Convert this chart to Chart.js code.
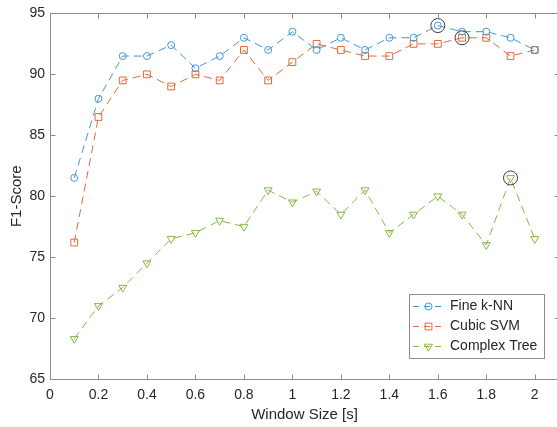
<!DOCTYPE html>
<html>
<head>
<meta charset="utf-8">
<script src="https://cdn.jsdelivr.net/npm/chart.js@4/dist/chart.umd.min.js"></script>
<style>
  html, body { margin: 0; padding: 0; background: #fff; overflow: hidden; }
  /* canvas a bit wider than the window: the right axis edge falls off the picture like in the original */
  #wrap { width: 567px; height: 427px; }
</style>
</head>
<body>
<div id="wrap"><canvas id="grafica" width="567" height="427"></canvas></div>
<script>
// data
const windowSizes = [0.1, 0.2, 0.3, 0.4, 0.5, 0.6, 0.7, 0.8, 0.9, 1.0,
                     1.1, 1.2, 1.3, 1.4, 1.5, 1.6, 1.7, 1.8, 1.9, 2.0];
const knnF1  = [81.5, 88, 91.5, 91.5, 92.4, 90.5, 91.5, 93, 92, 93.5,
                92, 93, 92, 93, 93, 94, 93.5, 93.5, 93, 92];
const svmF1  = [76.2, 86.5, 89.5, 90, 89, 90, 89.5, 92, 89.5, 91,
                92.5, 92, 91.5, 91.5, 92.5, 92.5, 93, 93, 91.5, 92];
const treeF1 = [68.3, 71, 72.5, 74.5, 76.5, 77, 78, 77.5, 80.5, 79.5,
                80.4, 78.5, 80.5, 77, 78.5, 80, 78.5, 76, 81.5, 76.5];
// best window size per classifier (circled)
const bestX = [1.6, 1.7, 1.9];
const xTicks = [0, 0.2, 0.4, 0.6, 0.8, 1, 1.2, 1.4, 1.6, 1.8, 2];
const yTicks = [65, 70, 75, 80, 85, 90, 95];

const names = ["Fine k-NN", "Cubic SVM", "Complex Tree"];
const colors = ["#3f97d4", "#e26a3a", "#86b846"];
const estilos = [
  { pointStyle: "circle", radius: 3.5, rotation: 0 },
  { pointStyle: "rect", radius: 4.8, rotation: 0 },
  { pointStyle: "triangle", radius: 4.6, rotation: 180 }
];
const series = [knnF1, svmF1, treeF1];

const datasets = series.map(function (vals, i) {
  return {
    label: names[i],
    data: windowSizes.map((x, k) => ({ x: x, y: vals[k] })),
    borderColor: colors[i],
    backgroundColor: "rgba(0,0,0,0)",
    borderWidth: 1,
    borderDash: [8, 5],
    pointStyle: estilos[i].pointStyle,
    pointRadius: estilos[i].radius,
    pointRotation: estilos[i].rotation,
    pointBorderWidth: 1,
    pointBorderColor: colors[i],
    pointBackgroundColor: "rgba(0,0,0,0)",
    tension: 0,
    order: 2
  };
});

// black circles round the best points
bestX.forEach(function (bx, i) {
  const k = windowSizes.findIndex(x => Math.abs(x - bx) < 1e-9);
  datasets.push({
    label: "best" + i,
    data: [{ x: bx, y: series[i][k] }],
    showLine: false,
    pointStyle: "circle",
    pointRadius: 7,
    pointBorderWidth: 1,
    pointBorderColor: "#3a3a3a",
    pointBackgroundColor: "rgba(0,0,0,0)",
    order: 1
  });
});

const axisColor = "#8c8c8c";

// box + inward ticks like matlab
const cajaEjes = {
  id: "cajaEjes",
  afterDraw(chart) {
    const ctx = chart.ctx;
    const a = chart.chartArea;
    const xs = chart.scales.x, ys = chart.scales.y;
    ctx.save();
    ctx.strokeStyle = axisColor;
    ctx.lineWidth = 1;
    ctx.setLineDash([]);
    ctx.beginPath();
    const L = Math.round(a.left) + 0.5, R = Math.round(a.right) + 0.5;
    const T = Math.round(a.top) + 0.5, B = Math.round(a.bottom) + 0.5;
    ctx.rect(L, T, R - L, B - T);
    xTicks.forEach(function (v) {
      const p = Math.round(xs.getPixelForValue(v)) + 0.5;
      ctx.moveTo(p, B); ctx.lineTo(p, B - 5);
      ctx.moveTo(p, T); ctx.lineTo(p, T + 5);
    });
    yTicks.forEach(function (v) {
      const p = Math.round(ys.getPixelForValue(v)) + 0.5;
      ctx.moveTo(L, p); ctx.lineTo(L + 5, p);
      ctx.moveTo(R, p); ctx.lineTo(R - 5, p);
    });
    ctx.stroke();
    ctx.restore();
  }
};

// legend box inside the axes, bottom right
const leyenda = {
  id: "leyenda",
  afterDraw(chart) {
    const ctx = chart.ctx;
    const x0 = 409.5, y0 = 294.5, w = 135, h = 64;
    ctx.save();
    ctx.fillStyle = "#fff";
    ctx.fillRect(x0, y0, w, h);
    ctx.strokeStyle = "#8c8c8c";
    ctx.lineWidth = 1;
    ctx.strokeRect(x0, y0, w, h);
    names.forEach(function (n, i) {
      const y = 306.5 + i * 20;
      ctx.strokeStyle = colors[i];
      ctx.setLineDash([6, 5]);
      ctx.beginPath();
      ctx.moveTo(413, y); ctx.lineTo(444, y);
      ctx.stroke();
      ctx.setLineDash([]);
      ctx.fillStyle = "rgba(0,0,0,0)";
      ctx.lineWidth = 1;
      Chart.helpers.drawPoint(ctx, {
        pointStyle: estilos[i].pointStyle,
        radius: estilos[i].radius,
        rotation: estilos[i].rotation,
        borderWidth: 1
      }, 428.5, y);
      ctx.fillStyle = "#262626";
      ctx.font = "14px 'Liberation Sans', Arial, sans-serif";
      ctx.textBaseline = "middle";
      ctx.fillText(n, 450, y);
    });
    ctx.restore();
  }
};

const fuente = { family: "'Liberation Sans', Arial, sans-serif", size: 14 };

const config = {
  type: "line",
  data: { datasets: datasets },
  options: {
    responsive: false,
    animation: false,
    layout: { padding: { top: 11.6, right: 2, bottom: 0, left: 0 } },
    plugins: {
      legend: { display: false },
      tooltip: { enabled: false },
      title: { display: false }
    },
    scales: {
      x: {
        type: "linear",
        min: 0,
        max: 2.1,
        afterBuildTicks: function (scale) {
          scale.ticks = xTicks.map(v => ({ value: v }));
        },
        afterFit: function (scale) { scale.height = 48; },
        grid: { display: false, drawTicks: false },
        border: { display: false },
        ticks: {
          padding: 8,
          color: "#262626",
          font: fuente,
          maxRotation: 0,
          autoSkip: false,
          callback: v => String(Math.round(v * 10) / 10)
        },
        title: {
          display: true,
          text: "Window Size [s]",
          color: "#262626",
          font: { family: fuente.family, size: 15 },
          padding: { top: 0, bottom: 3 }
        }
      },
      y: {
        min: 65,
        max: 95,
        afterBuildTicks: function (scale) {
          scale.ticks = yTicks.map(v => ({ value: v }));
        },
        afterFit: function (scale) { scale.width = 50; },
        grid: { display: false, drawTicks: false },
        border: { display: false },
        ticks: {
          padding: 5,
          color: "#262626",
          font: fuente
        },
        title: {
          display: true,
          text: "F1-Score",
          color: "#262626",
          font: { family: fuente.family, size: 15 },
          padding: { top: 8, bottom: 0 }
        }
      }
    }
  },
  plugins: [cajaEjes, leyenda]
};

const grafico = new Chart(document.getElementById("grafica"), config);
</script>
</body>
</html>
